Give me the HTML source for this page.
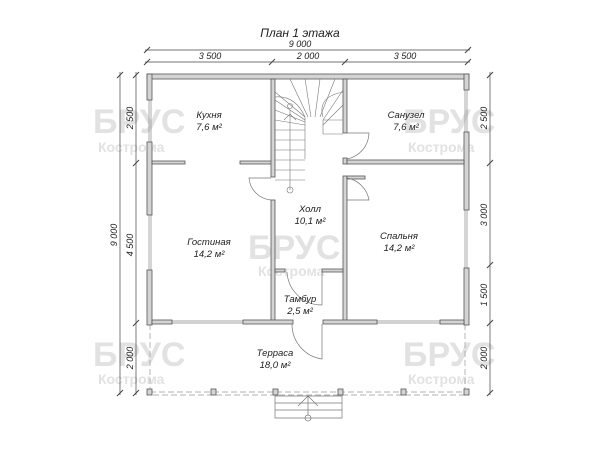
<!DOCTYPE html>
<html><head><meta charset="utf-8"><style>
body{margin:0;background:#fff}
svg{display:block}
text{font-family:"Liberation Sans",sans-serif;font-style:italic;fill:#222}
.wm{font-style:normal;fill:#e2e2e2;font-weight:bold}
</style></head><body>
<svg width="600" height="450" viewBox="0 0 600 450" xmlns="http://www.w3.org/2000/svg">
<!-- watermarks -->
<g class="wm">
<text x="93" y="133" font-size="34" class="wm">БРУС</text><text x="98" y="152" font-size="14" class="wm">Кострома</text>
<text x="403" y="133" font-size="34" class="wm">БРУС</text><text x="408" y="152" font-size="14" class="wm">Кострома</text>
<text x="248" y="259" font-size="34" class="wm">БРУС</text><text x="258" y="276" font-size="14" class="wm">Кострома</text>
<text x="93" y="366" font-size="34" class="wm">БРУС</text><text x="98" y="384" font-size="14" class="wm">Кострома</text>
<text x="403" y="366" font-size="34" class="wm">БРУС</text><text x="408" y="384" font-size="14" class="wm">Кострома</text>
</g>
<text x="300" y="37" font-size="12" text-anchor="middle">План 1 этажа</text>
<!-- dimension lines -->
<g stroke="#444" stroke-width="0.7" fill="none">
<line x1="145" y1="50" x2="470" y2="50"/><line x1="145" y1="62" x2="470" y2="62"/>
<line x1="120" y1="72" x2="120" y2="395"/><line x1="136" y1="72" x2="136" y2="395"/>
<line x1="490" y1="72" x2="490" y2="395"/>
<g stroke-width="1">
<path d="M144 53l6-6M144 65l6-6M269 65l6-6M342 65l6-6M465 53l6-6M465 65l6-6"/>
<path d="M117 78l6-6M133 78l6-6M133 166l6-6M117 396l6-6M133 326l6-6M133 396l6-6"/>
<path d="M487 78l6-6M487 166l6-6M487 268l6-6M487 326l6-6M487 396l6-6"/>
</g></g>
<g font-size="9" text-anchor="middle">
<text x="300" y="47">9 000</text><text x="210" y="59">3 500</text><text x="308" y="59">2 000</text><text x="405" y="59">3 500</text>
<text transform="translate(117,235) rotate(-90)">9 000</text>
<text transform="translate(133,118) rotate(-90)">2 500</text>
<text transform="translate(133,245) rotate(-90)">4 500</text>
<text transform="translate(133,358) rotate(-90)">2 000</text>
<text transform="translate(487,118) rotate(-90)">2 500</text>
<text transform="translate(487,215) rotate(-90)">3 000</text>
<text transform="translate(487,295) rotate(-90)">1 500</text>
<text transform="translate(487,358) rotate(-90)">2 000</text>
</g>
<!-- terrace dashed perimeter -->
<g stroke="#999" stroke-width="0.7" fill="none" stroke-dasharray="6,3">
<line x1="150" y1="324" x2="150" y2="392"/><line x1="465" y1="324" x2="465" y2="392"/>
<line x1="150" y1="392" x2="465" y2="392"/><line x1="153" y1="395" x2="465" y2="395"/>
</g>
<!-- windows -->
<g stroke="#888" stroke-width="0.7" fill="none">
<path d="M149 100v42M151 100v42M149 215v55M151 215v55M465 90v42M467 90v42M465 210v58M467 210v58"/>
<path d="M172 321h71M172 323h71M377 321h63M377 323h63"/>
</g>
<!-- walls -->
<g fill="#d4d4d4" stroke="#555" stroke-width="0.8">
<rect x="147" y="74" width="322" height="5"/>
<rect x="147" y="74" width="5" height="26"/>
<rect x="147" y="142" width="5" height="73"/>
<rect x="147" y="270" width="5" height="55"/>
<rect x="464" y="74" width="5" height="16"/>
<rect x="464" y="132" width="5" height="78"/>
<rect x="464" y="268" width="5" height="57"/>
<rect x="152" y="161" width="33" height="3"/>
<rect x="240" y="161" width="32" height="3"/>
<rect x="271" y="79" width="4" height="98"/>
<rect x="343" y="79" width="4" height="54"/>
<rect x="343" y="158" width="4" height="6"/>
<rect x="347" y="160" width="117" height="4"/>
<rect x="343" y="176" width="4" height="146"/>
<rect x="347" y="176" width="18" height="3"/>
<rect x="271" y="200" width="4" height="122"/>
<rect x="275" y="269" width="10" height="3"/>
<rect x="322" y="269" width="21" height="3"/>
<rect x="152" y="320" width="20" height="4"/>
<rect x="243" y="320" width="50" height="4"/>
<rect x="323" y="320" width="54" height="4"/>
<rect x="440" y="320" width="24" height="4"/>
<rect x="147" y="389" width="5" height="6"/><rect x="211" y="389" width="5" height="6"/><rect x="273" y="389" width="5" height="6"/>
<rect x="338" y="389" width="5" height="6"/><rect x="401" y="389" width="5" height="6"/><rect x="464" y="389" width="5" height="6"/>
</g>
<!-- stairs -->
<g stroke="#777" stroke-width="0.6" fill="none">
<path d="M275 92l30 25M275 100l30 20M275 110l30 12M275 120l30 5M290 79l18 38M305 79l6 38M320 79l-5 38M335 79l-15 38M343 90l-20 30M343 105l-20 20"/>
<path d="M305 117v42M323 120v14M343 120h-20M343 134h-20M323 117q-6-20 20-25M305 117q-10-22-30-20"/>
<path d="M275 130h30M275 140h30M275 150h30M275 160h30M275 170h30M275 180h30M290 190v-80M284 120l6-6 6 6"/>
<circle cx="290" cy="190" r="3"/><circle cx="290" cy="106" r="2.5"/>
</g>
<!-- doors -->
<g stroke="#777" stroke-width="0.7" fill="none">
<path d="M347 133h22a27 27 0 0 1-22 26"/>
<path d="M347 200h22a27 27 0 0 0-22-22"/>
<path d="M271 178h-22a24 24 0 0 0 22 22"/>
<path d="M322 272v33a35 35 0 0 1-35-33"/>
<path d="M322 324v35a35 35 0 0 1-30-35"/>
<path d="M275 396h67v22h-67zM275 403h67M275 410h67M308 396v19M298 406l10-10 10 10"/>
<circle cx="308" cy="418" r="3"/>
</g>
<!-- labels -->
<g font-size="9.5" text-anchor="middle">
<text x="209" y="118">Кухня</text><text x="209" y="130">7,6 м²</text>
<text x="406" y="118">Санузел</text><text x="406" y="130">7,6 м²</text>
<text x="310" y="212">Холл</text><text x="310" y="224">10,1 м²</text>
<text x="209" y="245">Гостиная</text><text x="209" y="257">14,2 м²</text>
<text x="399" y="239">Спальня</text><text x="399" y="251">14,2 м²</text>
<text x="300" y="302">Тамбур</text><text x="300" y="314">2,5 м²</text>
<text x="275" y="356">Терраса</text><text x="275" y="368">18,0 м²</text>
</g>
</svg>
</body></html>
